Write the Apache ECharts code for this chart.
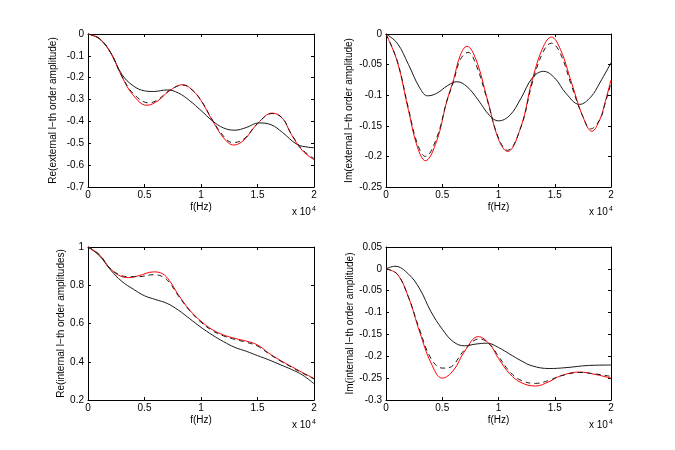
<!DOCTYPE html>
<html>
<head>
<meta charset="utf-8">
<script src="https://cdn.jsdelivr.net/npm/echarts@6/dist/echarts.min.js"></script>
<style>
  html, body { margin: 0; padding: 0; background: #fff; }
  #chart { width: 675px; height: 450px; }
</style>
</head>
<body>
<div id="chart"></div>
<script>
// f in units of 1e4 Hz
var xTicks = [0, 0.5, 1, 1.5, 2];

// Re(external)
var reExtRed = [[0,0],[0.1,-0.02],[0.2,-0.085],[0.3,-0.195],[0.4,-0.28],[0.52,-0.326],[0.62,-0.305],[0.72,-0.26],[0.84,-0.232],[0.92,-0.255],[1.0,-0.305],[1.1,-0.395],[1.2,-0.475],[1.29,-0.508],[1.38,-0.485],[1.5,-0.41],[1.63,-0.362],[1.72,-0.385],[1.8,-0.46],[1.9,-0.535],[2.0,-0.575]];
var reExtDash = [[0,0],[0.1,-0.02],[0.2,-0.085],[0.3,-0.193],[0.4,-0.272],[0.54,-0.315],[0.62,-0.3],[0.72,-0.258],[0.84,-0.234],[0.92,-0.255],[1.0,-0.303],[1.1,-0.392],[1.2,-0.468],[1.28,-0.497],[1.38,-0.48],[1.5,-0.41],[1.63,-0.364],[1.72,-0.385],[1.8,-0.458],[1.9,-0.53],[2.0,-0.57]];
var reExtBlack = [[0,0],[0.1,-0.022],[0.2,-0.085],[0.3,-0.185],[0.4,-0.237],[0.5,-0.26],[0.58,-0.263],[0.7,-0.256],[0.8,-0.27],[0.9,-0.305],[1.0,-0.35],[1.1,-0.397],[1.2,-0.43],[1.3,-0.44],[1.4,-0.428],[1.51,-0.407],[1.62,-0.415],[1.72,-0.45],[1.85,-0.505],[1.95,-0.518],[2.0,-0.52]];

// Im(external)
var imExtRed = [[0,0],[0.1,-0.045],[0.2,-0.125],[0.28,-0.185],[0.35,-0.207],[0.45,-0.175],[0.54,-0.11],[0.6,-0.075],[0.66,-0.035],[0.72,-0.02],[0.8,-0.042],[0.9,-0.106],[1.0,-0.172],[1.08,-0.192],[1.2,-0.151],[1.3,-0.075],[1.4,-0.02],[1.47,-0.005],[1.55,-0.025],[1.65,-0.08],[1.75,-0.135],[1.83,-0.159],[1.9,-0.14],[1.95,-0.11],[2.0,-0.075]];
var imExtDash = [[0,0],[0.1,-0.044],[0.2,-0.122],[0.28,-0.18],[0.35,-0.2],[0.45,-0.17],[0.54,-0.11],[0.6,-0.078],[0.66,-0.042],[0.73,-0.03],[0.8,-0.05],[0.9,-0.108],[1.0,-0.17],[1.08,-0.19],[1.2,-0.152],[1.3,-0.08],[1.4,-0.028],[1.47,-0.015],[1.55,-0.032],[1.65,-0.085],[1.75,-0.135],[1.82,-0.155],[1.9,-0.14],[1.95,-0.112],[2.0,-0.08]];
var imExtBlack = [[0,0],[0.1,-0.015],[0.2,-0.05],[0.3,-0.088],[0.37,-0.101],[0.45,-0.097],[0.55,-0.084],[0.63,-0.078],[0.72,-0.086],[0.82,-0.108],[0.92,-0.133],[1.0,-0.142],[1.1,-0.133],[1.2,-0.105],[1.3,-0.072],[1.4,-0.061],[1.5,-0.072],[1.6,-0.097],[1.72,-0.115],[1.82,-0.103],[1.9,-0.08],[2.0,-0.047]];

// Re(internal)
var reIntRed = [[0,1],[0.1,0.96],[0.2,0.885],[0.3,0.845],[0.36,0.84],[0.45,0.85],[0.58,0.87],[0.66,0.86],[0.72,0.825],[0.8,0.75],[0.9,0.67],[1.0,0.612],[1.1,0.568],[1.2,0.54],[1.3,0.522],[1.4,0.508],[1.5,0.488],[1.6,0.445],[1.7,0.408],[1.8,0.375],[1.9,0.343],[2.0,0.313]];
var reIntDash = [[0,1],[0.1,0.96],[0.2,0.885],[0.3,0.85],[0.36,0.845],[0.45,0.845],[0.58,0.855],[0.66,0.845],[0.72,0.815],[0.8,0.745],[0.9,0.667],[1.0,0.607],[1.1,0.563],[1.2,0.535],[1.3,0.517],[1.4,0.502],[1.5,0.482],[1.6,0.442],[1.7,0.405],[1.8,0.372],[1.9,0.34],[2.0,0.31]];
var reIntBlack = [[0,1],[0.1,0.955],[0.2,0.88],[0.3,0.82],[0.4,0.78],[0.5,0.745],[0.6,0.725],[0.7,0.705],[0.8,0.67],[0.9,0.625],[1.0,0.58],[1.1,0.54],[1.2,0.505],[1.3,0.475],[1.4,0.455],[1.5,0.432],[1.6,0.41],[1.7,0.385],[1.8,0.36],[1.9,0.33],[2.0,0.285]];

// Im(internal)
var imIntRed = [[0,0],[0.1,-0.012],[0.2,-0.065],[0.3,-0.145],[0.4,-0.215],[0.5,-0.25],[0.6,-0.232],[0.7,-0.188],[0.82,-0.155],[0.92,-0.172],[1.0,-0.205],[1.1,-0.24],[1.2,-0.26],[1.33,-0.268],[1.45,-0.258],[1.55,-0.245],[1.72,-0.236],[1.85,-0.241],[2.0,-0.25]];
var imIntDash = [[0,0],[0.1,-0.012],[0.2,-0.065],[0.3,-0.14],[0.4,-0.205],[0.5,-0.227],[0.56,-0.226],[0.7,-0.185],[0.83,-0.16],[0.92,-0.172],[1.0,-0.2],[1.1,-0.235],[1.2,-0.255],[1.33,-0.262],[1.45,-0.255],[1.55,-0.245],[1.72,-0.237],[1.85,-0.24],[2.0,-0.246]];
var imIntBlack = [[0,0],[0.08,0.006],[0.2,-0.012],[0.3,-0.046],[0.4,-0.098],[0.5,-0.138],[0.6,-0.167],[0.7,-0.176],[0.8,-0.172],[0.9,-0.17],[1.0,-0.18],[1.1,-0.195],[1.2,-0.21],[1.3,-0.222],[1.45,-0.228],[1.6,-0.226],[1.8,-0.221],[2.0,-0.22]];

var yNames = ['Re(external l\u2212th order amplitude)', 'Im(external l\u2212th order amplitude)',
              'Re(internal l\u2212th order amplitudes)', 'Im(internal l\u2212th order amplitude)'];
var yMin = [-0.7, -0.25, 0.2, -0.3];
var yMax = [0, 0, 1, 0.05];
var yStep = [0.1, 0.05, 0.2, 0.05];
var yNameGap = [30, 32, 22, 30];
var panels = [
  [reExtBlack, reExtRed, reExtDash],
  [imExtBlack, imExtRed, imExtDash],
  [reIntBlack, reIntRed, reIntDash],
  [imIntBlack, imIntRed, imIntDash]
];

var FONT = '"Liberation Sans", Arial, sans-serif';
var myChart = echarts.init(document.getElementById('chart'));

var grids = [
  {left: 88, top: 34, width: 226, height: 153},
  {left: 386, top: 34, width: 225, height: 153},
  {left: 88, top: 247, width: 226, height: 153},
  {left: 386, top: 247, width: 225, height: 153}
];

var xAxes = [], yAxes = [], series = [], graphics = [];
var lineAxis = {show: true, onZero: false, lineStyle: {color: '#000', width: 1}};
var tickIn = {show: true, inside: true, length: 3, lineStyle: {color: '#000'}};

for (var i = 0; i < 4; i++) {
  // bottom x
  xAxes.push({
    gridIndex: i, type: 'value', min: 0, max: 2, interval: 0.5,
    name: 'f(Hz)', nameLocation: 'middle', nameGap: 15,
    nameTextStyle: {color: '#000', fontSize: 10, fontFamily: FONT},
    axisLine: lineAxis, axisTick: tickIn, splitLine: {show: false},
    axisLabel: {color: '#000', fontSize: 10, fontFamily: FONT, margin: 3}
  });
  // top x (box ticks)
  xAxes.push({
    gridIndex: i, type: 'value', min: 0, max: 2, interval: 0.5, position: 'top',
    axisLine: lineAxis, axisTick: tickIn, splitLine: {show: false},
    axisLabel: {show: false}
  });
  // left y
  yAxes.push({
    gridIndex: i, type: 'value', min: yMin[i], max: yMax[i], interval: yStep[i],
    name: yNames[i], nameLocation: 'middle', nameRotate: 90, nameGap: yNameGap[i],
    nameTextStyle: {color: '#000', fontSize: 10, fontFamily: FONT},
    axisLine: lineAxis, axisTick: tickIn, splitLine: {show: false},
    axisLabel: {color: '#000', fontSize: 10, fontFamily: FONT, margin: 4,
      formatter: function (v) { return String(Math.round(v * 1000) / 1000); }}
  });
  // right y (box ticks)
  yAxes.push({
    gridIndex: i, type: 'value', min: yMin[i], max: yMax[i], interval: yStep[i], position: 'right',
    axisLine: lineAxis, axisTick: tickIn, splitLine: {show: false},
    axisLabel: {show: false}
  });

  var p = panels[i];
  series.push({type: 'line', xAxisIndex: 2 * i, yAxisIndex: 2 * i, data: p[0], smooth: 0.4,
    showSymbol: false, lineStyle: {color: '#1a1a1a', width: 1}, silent: true});
  series.push({type: 'line', xAxisIndex: 2 * i, yAxisIndex: 2 * i, data: p[1], smooth: 0.4,
    showSymbol: false, lineStyle: {color: '#ff0000', width: 1}, silent: true});
  series.push({type: 'line', xAxisIndex: 2 * i, yAxisIndex: 2 * i, data: p[2], smooth: 0.4,
    showSymbol: false, lineStyle: {color: '#1a1a1a', width: 1, type: [5, 4]}, silent: true});

  var g = grids[i];
  graphics.push({
    type: 'text', left: g.left + g.width - 22, top: g.top + g.height + 19,
    style: {
      text: '{a|x 10}{b|4}',
      rich: {
        a: {fontSize: 10, fontFamily: FONT, fill: '#000'},
        b: {fontSize: 7, fontFamily: FONT, fill: '#000', verticalAlign: 'top', padding: [0, 0, 6, 1]}
      }
    }
  });
}

var option = {
  backgroundColor: '#fff',
  animation: false,
  grid: grids,
  xAxis: xAxes,
  yAxis: yAxes,
  series: series,
  graphic: graphics
};
myChart.setOption(option);
</script>
</body>
</html>
